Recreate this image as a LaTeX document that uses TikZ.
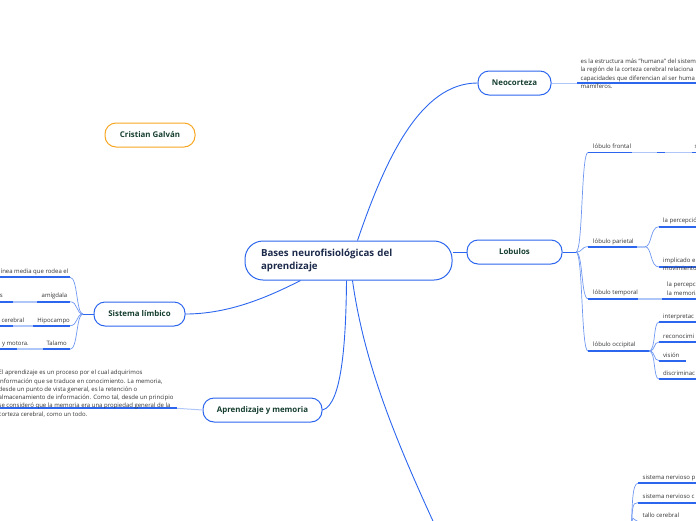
\documentclass[tikz,border=0pt]{standalone}
\usepackage{fontspec}
\setmainfont{Open Sans}
\definecolor{linkblue}{HTML}{2C66EE}
\definecolor{softblue}{HTML}{AFC6F8}
\definecolor{forkblue}{HTML}{6F97F2}
\definecolor{topicgreen}{HTML}{163F30}
\definecolor{maintext}{HTML}{1C2A4B}
\definecolor{leafgrey}{HTML}{333333}
\definecolor{authorline}{HTML}{F6A623}

\tikzset{
  topic/.style={draw=linkblue, line width=1pt, rounded corners=11pt, fill=white,
    text=topicgreen, font=\fontsize{7.9}{9}\selectfont\bfseries,
    minimum height=24pt, inner sep=0pt},
  leaf/.style={anchor=base west, inner sep=0pt, text=leafgrey,
    font=\fontsize{6}{8.3}\selectfont, align=left},
  rleaf/.style={leaf, anchor=base east, align=right},
  link/.style={draw=linkblue, line width=0.9pt},
  fork/.style={draw=forkblue, line width=0.7pt},
  under/.style={draw=linkblue, line width=1.8pt},
  faint/.style={draw=softblue, line width=1.8pt},
}

\begin{document}
\begin{tikzpicture}[x=1pt,y=-1pt]
  \useasboundingbox (0,0) rectangle (696,520);
  % topics
  \node[topic, text=maintext, font=\fontsize{9.7}{13}\selectfont\bfseries,
    align=left, text width=175pt, inner xsep=16pt, minimum height=39pt,
    rounded corners=18pt] (main) at (348.5,260.5) {Bases neurofisiológicas del\\aprendizaje};
  \node[topic, draw=authorline, minimum width=90pt] (author) at (150,135) {Cristian Galván};
  \node[topic, minimum width=73pt] (neo) at (514.5,83) {Neocorteza};
  \node[topic, minimum width=95pt] (lob) at (514.5,252) {Lobulos};
  \node[topic, minimum width=91pt] (lim) at (139.5,314) {Sistema límbico};
  \node[topic, minimum width=119pt] (apr) at (262.5,410) {Aprendizaje y memoria};
  \coordinate (sysroot) at (444,545);

  \draw[link] ([xshift=9pt]main.north) .. controls (385,160) and (420,83) .. (neo.west);
  \draw[link] (main.east |- lob.west) -- (lob.west);
  \draw[link] ([xshift=-48pt]main.south) .. controls (270,296) and (230,314) .. (lim.east);
  \draw[link] ([xshift=-2pt]main.south) .. controls (346,340) and (342,405) .. (apr.east);
  \draw[link] ([xshift=4pt]main.south) .. controls (365,370) and (400,450) .. (sysroot);

  % Neocorteza
  \coordinate (neotxt) at (577,83);
  \draw[faint, line width=1pt] (neo.east) -- (neotxt);
  \draw[under] (neotxt) -- (700,83);
  \node[leaf] (neodesc) at (580.5,88.5) {es la estructura más "humana" del sistem\\la región de la corteza cerebral relaciona\\capacidades que diferencian al ser huma\\mamíferos.};

  % Lobulos
  \coordinate (lobfork) at (576,252);
  \draw[link] (lob.east) -- (lobfork);
  \coordinate (frontal-in) at (588,152.5);
  \coordinate (parietal-in) at (588,246.7);
  \coordinate (temporal-in) at (588,298.7);
  \coordinate (occipital-in) at (588,351);
  \foreach \c in {frontal-in,parietal-in,temporal-in,occipital-in}
    \draw[fork] (lobfork) .. controls (583,252) and (581,0 |- \c) .. (\c);
  \node[leaf] (frontal) at (593,148.5) {lóbulo frontal};
  \node[leaf] (frontal-s) at (694.5,148.5) {s};
  \draw[under] (frontal-in) -- (632,152.5);
  \draw[faint] (632,152.5) -- (657,152.5);
  \draw[under] (657,152.5) -- (665,152.5);
  \draw[faint] (665,152.5) -- (692,152.5);
  \draw[under] (692,152.5) -- (700,152.5);

  \node[leaf] (parietal) at (593,243) {lóbulo parietal};
  \coordinate (parfork) at (645,246.7);
  \draw[under] (parietal-in) -- (637,246.7);
  \draw[faint] (637,246.7) -- (parfork);
  \coordinate (percep-in) at (659,226.7);
  \coordinate (implic-in) at (659,267);
  \draw[fork] (parfork) .. controls (652,246.7) and (650,226.7) .. (percep-in);
  \draw[fork] (parfork) .. controls (652,246.7) and (650,267) .. (implic-in);
  \draw[under] (percep-in) -- (700,226.7);
  \draw[under] (implic-in) -- (700,267);
  \node[leaf] (percep) at (663,222.5) {la percepción};
  \node[leaf] (implic) at (663,270.5) {implicado e\\movimiento};

  \node[leaf] (temporal) at (593,294.8) {lóbulo temporal};
  \draw[under] (temporal-in) -- (638,298.7);
  \draw[faint] (638,298.7) -- (662,298.7);
  \draw[under] (662,298.7) -- (700,298.7);
  \node[leaf] (tempdesc) at (667,295) {la percepc\\la memoria};

  \node[leaf] (occipital) at (593,346.5) {lóbulo occipital};
  \coordinate (occfork) at (649,351);
  \draw[under] (occipital-in) -- (occfork);
  \coordinate (interp-in) at (659,322);
  \coordinate (recon-in) at (659,342);
  \coordinate (vision-in) at (659,360.7);
  \coordinate (discr-in) at (659,379);
  \foreach \c in {interp-in,recon-in,vision-in,discr-in}
    \draw[fork] (occfork) .. controls (656,351) and (653,0 |- \c) .. (\c);
  \draw[under] (interp-in) -- (700,322);
  \draw[under] (recon-in) -- (700,342);
  \draw[under] (vision-in) -- (686,360.7);
  \draw[under] (discr-in) -- (700,379);
  \node[leaf] (interp) at (663,318.8) {interpretac};
  \node[leaf] (recon) at (663,338.8) {reconocimi};
  \node[leaf] (vision) at (663,357.3) {visión};
  \node[leaf] (discr) at (663,375.6) {discriminac};

  % Sistema limbico
  \coordinate (limfork) at (83,314);
  \draw[link] (lim.west) -- (limfork);
  \coordinate (linea-in) at (70,277.3);
  \coordinate (amig-in) at (70,301.7);
  \coordinate (hipo-in) at (70,325.7);
  \coordinate (tala-in) at (70,349.3);
  \foreach \c in {linea-in,amig-in,hipo-in,tala-in}
    \draw[fork] (limfork) .. controls (76,314) and (78,0 |- \c) .. (\c);
  \draw[under] (linea-in) -- (-5,277.3);
  \node[rleaf] (linea) at (68.5,273.3) {línea media que rodea el};
  \draw[under] (amig-in) -- (37,301.7);
  \draw[faint] (37,301.7) -- (13,301.7);
  \draw[under] (13,301.7) -- (-5,301.7);
  \node[rleaf] (amig) at (67.5,297.7) {amígdala};
  \node[rleaf] (amig-s) at (3,297.7) {s};
  \draw[under] (hipo-in) -- (33,325.7);
  \draw[faint] (33,325.7) -- (13,325.7);
  \draw[under] (13,325.7) -- (-5,325.7);
  \node[rleaf] (hipo) at (70,322) {Hipocampo};
  \node[rleaf] (hipo-t) at (24.5,322) {cerebral};
  \draw[under] (tala-in) -- (43,349.3);
  \draw[faint] (43,349.3) -- (17,349.3);
  \draw[under] (17,349.3) -- (-5,349.3);
  \node[rleaf] (tala) at (67,345.3) {Talamo};
  \node[rleaf] (tala-t) at (29,345.3) {l y motora.};

  % Aprendizaje y memoria
  \coordinate (aprtxt) at (177,408.3);
  \draw[faint, line width=1pt] (apr.west) -- (aprtxt);
  \draw[under] (aprtxt) -- (-5,408.3);
  \node[leaf] (aprdesc) at (-1.5,416.2) {El aprendizaje es un proceso por el cual adquirimos\\información que se traduce en conocimiento. La memoria,\\desde un punto de vista general, es la retención o\\almacenamiento de información. Como tal, desde un principio\\se consideró que la memoria era una propiedad general de la\\corteza cerebral, como un todo.};

  % rama inferior
  \coordinate (sysfork) at (631,548);
  \coordinate (snp-in) at (638,483.3);
  \coordinate (snc-in) at (638,502.7);
  \coordinate (tallo-in) at (638,521.5);
  \foreach \c in {snp-in,snc-in,tallo-in}
    \draw[fork] (sysfork) .. controls (632,505) and (632,0 |- \c) .. (\c);
  \draw[under] (snp-in) -- (700,483.3);
  \draw[under] (snc-in) -- (700,502.7);
  \draw[under] (tallo-in) -- (700,521.5);
  \node[leaf] (snp) at (642.5,479.5) {sistema nervioso p};
  \node[leaf] (snc) at (642.5,498.5) {sistema nervioso c};
  \node[leaf] (tallo) at (642.5,517.5) {tallo cerebral};
\end{tikzpicture}
\end{document}
